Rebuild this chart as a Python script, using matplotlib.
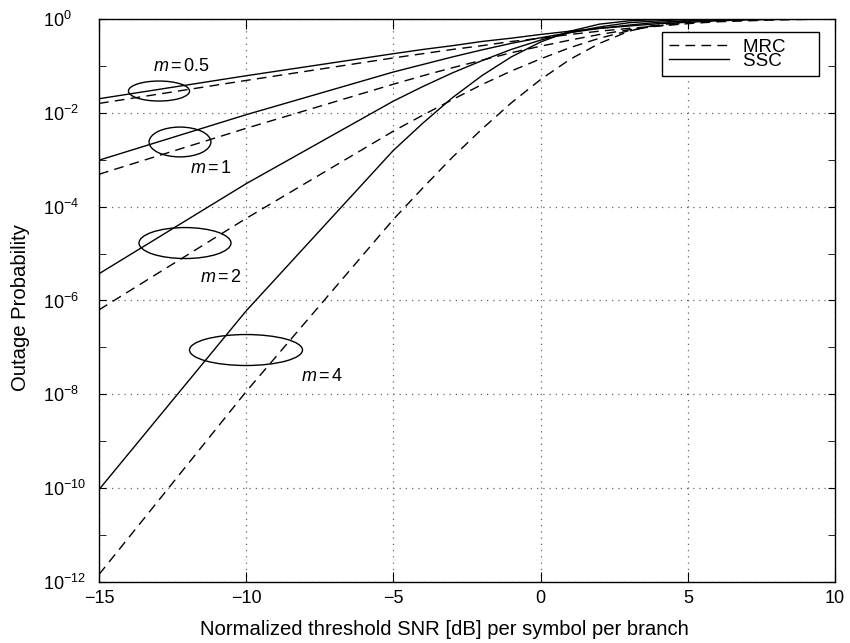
import matplotlib
matplotlib.use('Agg')
import matplotlib.pyplot as plt
from matplotlib.patches import Ellipse
from matplotlib.ticker import NullFormatter
import numpy as np

plt.rcParams['font.family'] = 'Liberation Sans'
plt.rcParams['mathtext.fontset'] = 'custom'
plt.rcParams['mathtext.rm'] = 'Liberation Sans'
plt.rcParams['mathtext.it'] = 'Liberation Sans:italic'

# threshold SNR (dB) and log10 of the outage probability
snr_db = [-15, -10, -5, -4, -3, -2, -1, 0, 1, 2, 3, 4, 5, 6, 7, 8, 10]

mrc_m05 = [-1.80, -1.31, -0.83, -0.74, -0.65, -0.57, -0.48, -0.41, -0.33, -0.26, -0.20, -0.15, -0.10, -0.06, -0.04, -0.02, 0.0]
ssc_m05 = [-1.70, -1.21, -0.74, -0.65, -0.57, -0.48, -0.41, -0.33, -0.26, -0.20, -0.15, -0.10, -0.07, -0.04, -0.02, -0.01, 0.0]
mrc_m1 = [-3.31, -2.33, -1.39, -1.21, -1.04, -0.88, -0.72, -0.58, -0.45, -0.33, -0.23, -0.15, -0.08, -0.04, -0.02, -0.01, 0.0]
ssc_m1 = [-3.01, -2.04, -1.13, -0.97, -0.81, -0.66, -0.52, -0.40, -0.29, -0.20, -0.13, -0.07, -0.04, -0.02, -0.01, 0.0, 0.0]
mrc_m2 = [-6.20, -4.25, -2.39, -2.05, -1.72, -1.40, -1.11, -0.85, -0.61, -0.41, -0.25, -0.13, -0.06, -0.02, 0.0, 0.0, 0.0]
ssc_m2 = [-5.43, -3.51, -1.75, -1.44, -1.15, -0.89, -0.65, -0.45, -0.29, -0.17, -0.08, -0.04, -0.01, 0.0, 0.0, 0.0, 0.0]
mrc_m4 = [-11.84, -7.94, -4.27, -3.60, -2.95, -2.35, -1.79, -1.29, -0.86, -0.52, -0.26, -0.11, -0.03, 0.0, 0.0, 0.0, 0.0]
ssc_m4 = [-10.03, -6.22, -2.80, -2.22, -1.68, -1.21, -0.81, -0.49, -0.26, -0.11, -0.04, -0.01, 0.0, 0.0, 0.0, 0.0, 0.0]

m_labels = [r'$m\,$=$\,$0.5', r'$m\,$=$\,$1', r'$m\,$=$\,$2', r'$m\,$=$\,$4']
m_label_x = [-12.2, -11.2, -10.86, -7.43]
m_label_logy = [-1.02, -3.18, -5.50, -7.61]

fig = plt.figure(figsize=(8.5, 6.43), dpi=100)
ax = fig.add_axes([0.1165, 0.0949, 0.8659, 0.8756])

dash = (0, (7, 4.5))
first = True
for mrc, ssc in [(mrc_m05, ssc_m05), (mrc_m1, ssc_m1), (mrc_m2, ssc_m2), (mrc_m4, ssc_m4)]:
    ax.semilogy(snr_db, 10 ** np.array(mrc), color='black', lw=1.0, linestyle=dash,
                label='MRC     ' if first else None)
    ax.semilogy(snr_db, 10 ** np.array(ssc), color='black', lw=1.0,
                label='SSC     ' if first else None)
    first = False

ax.set_xlim(-15, 10)
ax.set_ylim(1e-12, 1)
ax.set_xticks([-15, -10, -5, 0, 5, 10])
ax.set_yticks([10.0 ** -k for k in range(0, 13, 2)])
ax.set_yticks([10.0 ** -k for k in range(1, 12, 2)], minor=True)
ax.yaxis.set_minor_formatter(NullFormatter())
ax.tick_params(which='both', direction='in', top=True, right=True, labelsize=13)
ax.tick_params(axis='x', length=7, pad=6)
ax.tick_params(axis='y', which='both', length=5, pad=40)
for lab in ax.get_yticklabels():
    lab.set_horizontalalignment('left')
ax.grid(True, which='major', linestyle=(0, (1, 4)), color='#666666', lw=0.9)
for s in ax.spines.values():
    s.set_linewidth(1.0)

ax.set_xlabel('Normalized threshold SNR [dB] per symbol per branch', fontsize=14.6)
ax.xaxis.set_label_coords(0.469, -0.068)
ax.set_ylabel('Outage Probability', fontsize=14.6)
ax.yaxis.set_label_coords(-0.094, 0.487)

# ellipses grouping each pair of curves (axes coords)
for cx, cy, w, h in [(0.0815, 0.872, 0.083, 0.0355), (0.110, 0.7815, 0.084, 0.053),
                     (0.1168, 0.602, 0.125, 0.055), (0.1997, 0.412, 0.1535, 0.055)]:
    ax.add_patch(Ellipse((cx, cy), w, h, transform=ax.transAxes, fill=False,
                         edgecolor='black', lw=1.0))

for t, x, ly in zip(m_labels, m_label_x, m_label_logy):
    ax.text(x, 10 ** ly, t, fontsize=13, ha='center', va='center')

leg = ax.legend(loc='upper left', bbox_to_anchor=(0.765, 0.977), borderaxespad=0,
                fontsize=13.5, labelspacing=-0.15, handlelength=3.2, handletextpad=0.78,
                borderpad=0.35, fancybox=False, framealpha=1, edgecolor='black')
leg.get_frame().set_linewidth(1.0)

plt.savefig('out.png', dpi=100)
